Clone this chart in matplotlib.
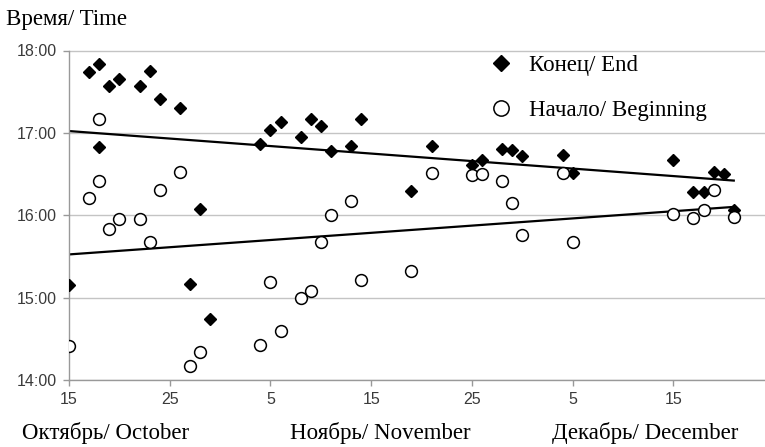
import numpy as np
import matplotlib
matplotlib.use("Agg")
import matplotlib.pyplot as plt
from matplotlib.lines import Line2D

# days counted from 15 October, times as decimal hours
end_days = [0, 2, 3, 3, 4, 5, 7, 8, 9, 11, 12, 13, 14, 19, 20, 21, 23, 24, 25, 26,
            28, 29, 34, 36, 40, 41, 43, 44, 45, 49, 50, 60, 62, 63, 64, 65, 66]
end_hours = [15.15, 17.74, 17.84, 16.83, 17.57, 17.66, 17.57, 17.75, 17.41, 17.30,
             15.16, 16.08, 14.74, 16.86, 17.04, 17.13, 16.95, 17.17, 17.08, 16.78,
             16.84, 17.17, 16.29, 16.84, 16.61, 16.67, 16.80, 16.79, 16.72, 16.73,
             16.51, 16.67, 16.28, 16.28, 16.52, 16.50, 16.06]

begin_days = [0, 2, 3, 3, 4, 5, 7, 8, 9, 11, 12, 13, 19, 20, 21, 23, 24, 25, 26, 28,
              29, 34, 36, 40, 41, 43, 44, 45, 49, 50, 60, 62, 63, 64, 66]
begin_hours = [14.41, 16.21, 17.17, 16.41, 15.83, 15.96, 15.96, 15.68, 16.31, 16.53,
               14.17, 14.34, 14.43, 15.19, 14.60, 15.00, 15.08, 15.67, 16.00, 16.17,
               15.21, 15.32, 16.51, 16.49, 16.50, 16.42, 16.15, 15.76, 16.51, 15.68,
               16.01, 15.97, 16.06, 16.31, 15.98]

xtick_pos = [0, 10, 20, 30, 40, 50, 60]
xtick_labels = ["15", "25", "5", "15", "25", "5", "15"]
months = ["Октябрь/ October", "Ноябрь/ November", "Декабрь/ December"]
ytick_hours = [14, 15, 16, 17, 18]

serif = "Liberation Serif"
sans = "Liberation Sans"

fig = plt.figure(figsize=(7.65, 4.47), dpi=100)
ax = fig.add_axes([69 / 765, 1 - 380 / 447, 1 - 69 / 765, (380 - 50.5) / 447])

for h in ytick_hours:
    ax.axhline(h, color="#c4c4c4", lw=1.0, zorder=0)

ax.plot(end_days, end_hours, linestyle="none", marker="D", ms=6,
        color="black", zorder=3)
ax.plot(begin_days, begin_hours, linestyle="none", marker="o", ms=8.5,
        mfc="white", mec="black", mew=1.1, zorder=3)

# linear trend lines
xs = np.array([0, 66])
for d, h in [(end_days, end_hours), (begin_days, begin_hours)]:
    k, b = np.polyfit(d, h, 1)
    ax.plot(xs, k * xs + b, color="black", lw=1.6, zorder=2)

ax.set_xlim(0, 69.1)
ax.set_ylim(14, 18)
ax.set_xticks(xtick_pos)
ax.set_xticklabels(xtick_labels)
ax.set_yticks(ytick_hours)
ax.set_yticklabels(["%d:00" % h for h in ytick_hours])
for lab in ax.get_xticklabels() + ax.get_yticklabels():
    lab.set_family(sans)
    lab.set_fontsize(11.5)
    lab.set_color("#3a3a3a")
ax.tick_params(axis="both", direction="out", length=4, color="#999999", width=1)
ax.tick_params(axis="x", pad=5)
ax.tick_params(axis="y", pad=5)

for s in ["top", "right"]:
    ax.spines[s].set_visible(False)
for s in ["left", "bottom"]:
    ax.spines[s].set_color("#999999")
    ax.spines[s].set_linewidth(1)

handles = [
    Line2D([], [], linestyle="none", marker="D", ms=8.5, color="black"),
    Line2D([], [], linestyle="none", marker="o", ms=11, mfc="white", mec="black", mew=1.1),
]
ax.legend(handles, ["Конец/ End", "Начало/ Beginning"], loc="upper left",
          bbox_to_anchor=(0.565, 1.05), frameon=False, handletextpad=0.4,
          handlelength=1.6, labelspacing=1.05, prop={"family": serif, "size": 16.5})

fig.text(6 / 765, 1 - 19 / 447, "Время/ Time", family=serif, fontsize=16.5,
         ha="left", va="center")
for xc, m in zip([106, 380, 645], months):
    fig.text(xc / 765, 1 - 433 / 447, m, family=serif, fontsize=16.5,
             ha="center", va="center")

fig.savefig("out.png", dpi=100)
